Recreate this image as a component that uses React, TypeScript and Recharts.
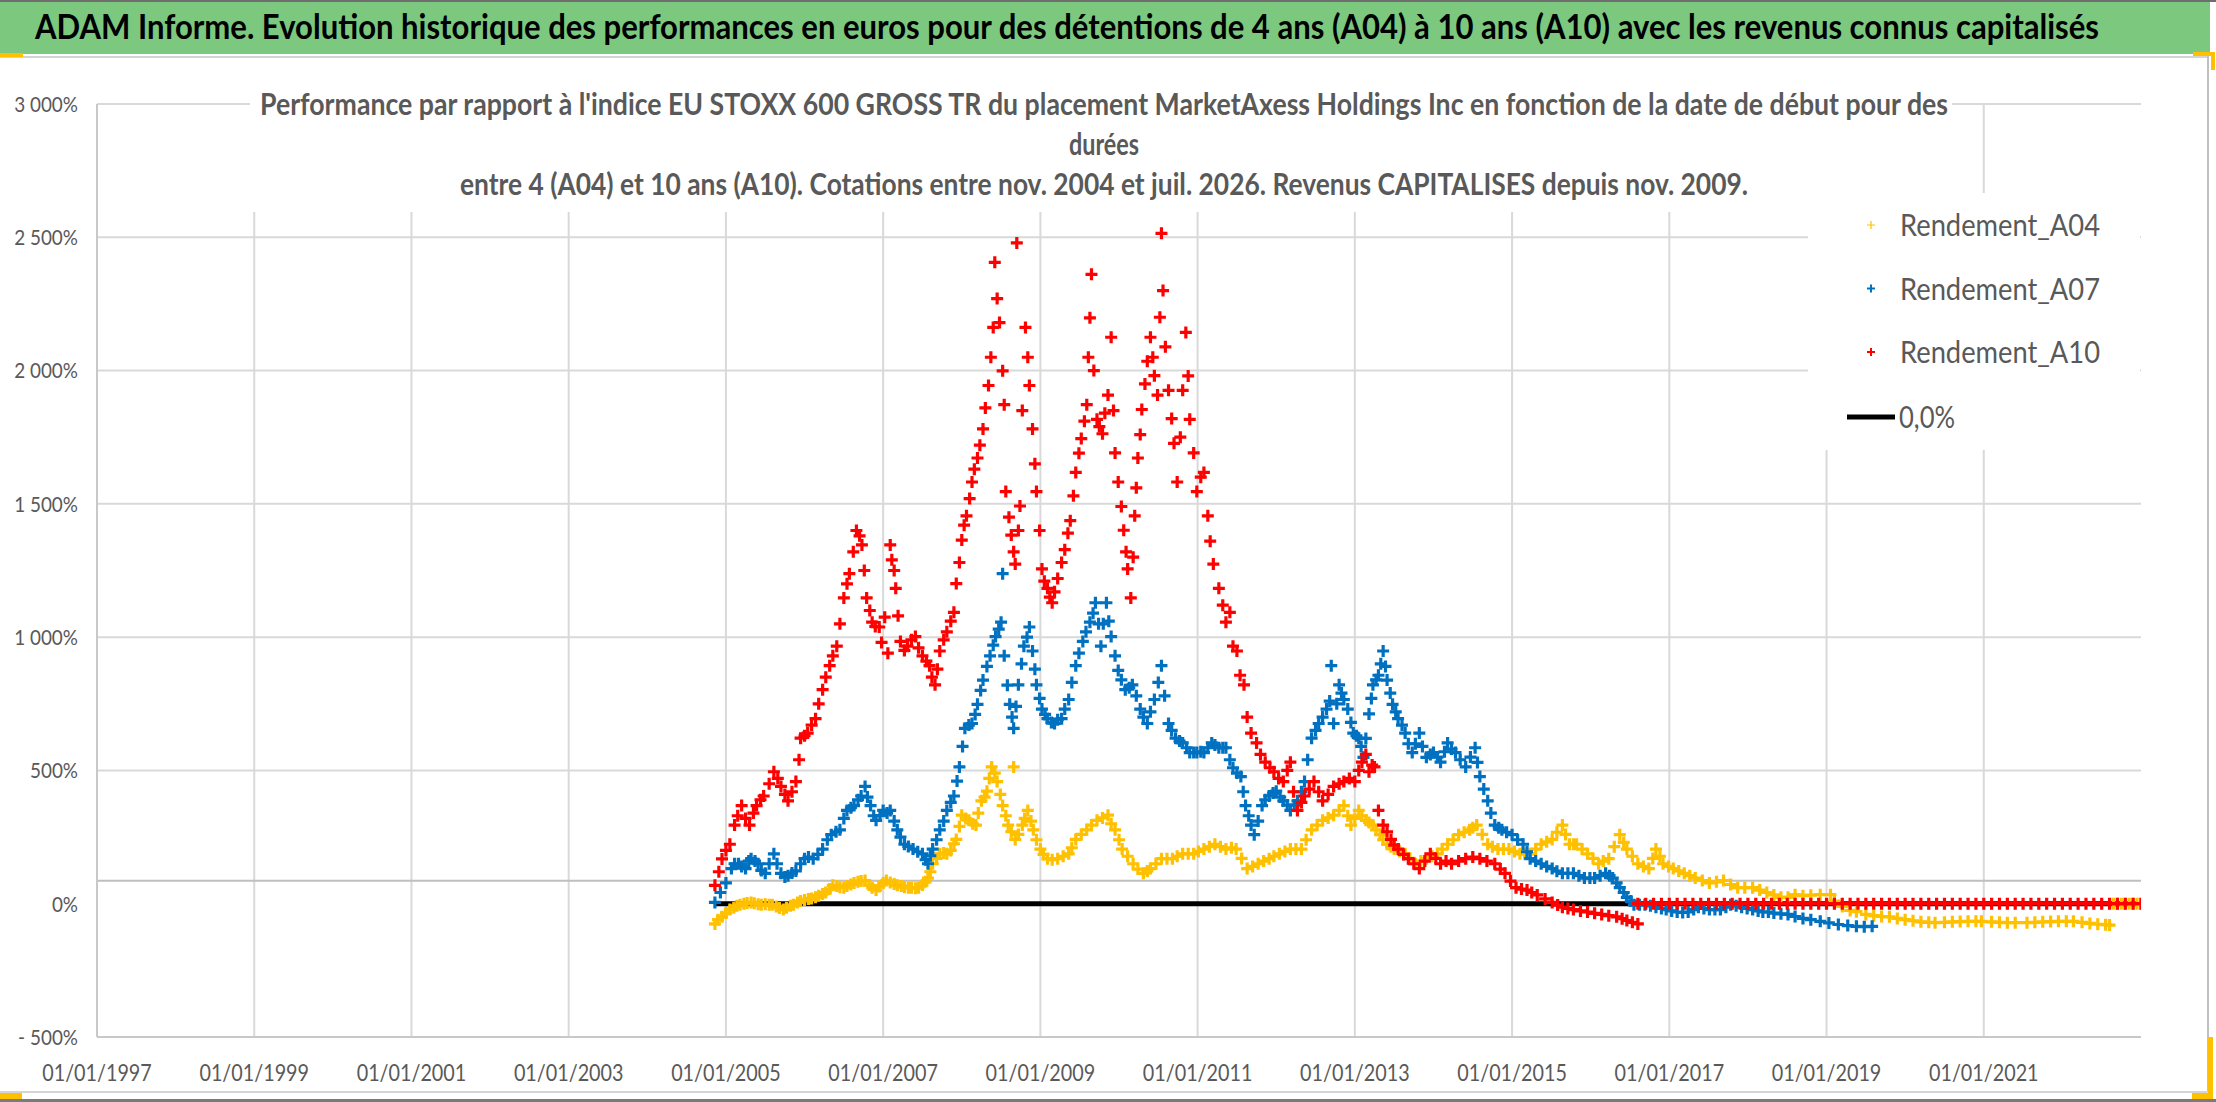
// ADAM performance chart: relative performance of MarketAxess vs EU STOXX 600 GROSS TR
// Scatter of "+" markers per holding period (A04, A07, A10) and a black 0% line

import { ScatterChart, Scatter, XAxis, YAxis, CartesianGrid } from 'recharts'

// [decimal year of start date, performance in %]
const a04: [number, number][] = [
  [2004.86, -76], [2004.9, -60], [2004.95, -49], [2005.0, -35], [2005.05, -22], [2005.1, -15],
  [2005.14, -8], [2005.18, -4], [2005.23, 0], [2005.27, 3], [2005.32, 5], [2005.36, 2],
  [2005.41, -2], [2005.45, -4], [2005.5, -2], [2005.55, -4], [2005.59, -4], [2005.64, -10],
  [2005.68, -16], [2005.73, -22], [2005.77, -15], [2005.82, -8], [2005.86, -4], [2005.91, 5],
  [2005.95, 10], [2006.0, 14], [2006.05, 18], [2006.09, 20], [2006.14, 24], [2006.18, 30],
  [2006.23, 36], [2006.27, 42], [2006.32, 55], [2006.36, 69], [2006.41, 66], [2006.45, 62],
  [2006.5, 60], [2006.54, 66], [2006.59, 72], [2006.63, 78], [2006.68, 82], [2006.72, 85],
  [2006.77, 87], [2006.82, 70], [2006.86, 60], [2006.91, 51], [2006.95, 65], [2007.0, 78],
  [2007.04, 87], [2007.09, 80], [2007.14, 74], [2007.18, 69], [2007.23, 66], [2007.27, 62],
  [2007.32, 60], [2007.36, 60], [2007.41, 58], [2007.45, 60], [2007.5, 70], [2007.54, 82],
  [2007.57, 96], [2007.6, 120], [2007.63, 150], [2007.68, 170], [2007.72, 187], [2007.77, 190],
  [2007.81, 187], [2007.86, 200], [2007.9, 225], [2007.93, 241], [2007.97, 290], [2008.0, 332],
  [2008.05, 320], [2008.09, 313], [2008.14, 300], [2008.18, 295], [2008.21, 340], [2008.25, 386],
  [2008.29, 400], [2008.32, 422], [2008.35, 470], [2008.38, 513], [2008.42, 490], [2008.45, 458],
  [2008.49, 410], [2008.52, 368], [2008.56, 330], [2008.59, 295], [2008.63, 270], [2008.66, 513],
  [2008.68, 241], [2008.72, 260], [2008.77, 295], [2008.8, 320], [2008.84, 350], [2008.88, 310],
  [2008.91, 277], [2008.95, 240], [2009.0, 205], [2009.04, 185], [2009.09, 169], [2009.15, 165],
  [2009.22, 169], [2009.29, 178], [2009.36, 187], [2009.4, 210], [2009.45, 241], [2009.52, 260],
  [2009.59, 277], [2009.65, 295], [2009.72, 313], [2009.79, 322], [2009.86, 332], [2009.9, 300],
  [2009.95, 277], [2010.0, 240], [2010.04, 205], [2010.11, 178], [2010.18, 150], [2010.24, 130],
  [2010.31, 114], [2010.36, 123], [2010.4, 132], [2010.47, 150], [2010.54, 169], [2010.61, 169],
  [2010.68, 169], [2010.74, 178], [2010.81, 187], [2010.88, 187], [2010.95, 187], [2011.01, 196],
  [2011.08, 205], [2011.15, 214], [2011.22, 223], [2011.29, 214], [2011.36, 205], [2011.43, 210],
  [2011.49, 205], [2011.56, 170], [2011.63, 132], [2011.7, 140], [2011.77, 150], [2011.84, 160],
  [2011.91, 169], [2011.97, 178], [2012.04, 187], [2012.11, 196], [2012.18, 205], [2012.25, 205],
  [2012.32, 205], [2012.38, 240], [2012.45, 277], [2012.52, 295], [2012.59, 313], [2012.66, 322],
  [2012.73, 332], [2012.8, 350], [2012.86, 368], [2012.91, 330], [2012.95, 295], [2013.0, 320],
  [2013.05, 350], [2013.09, 330], [2013.14, 313], [2013.18, 305], [2013.23, 295], [2013.27, 277],
  [2013.32, 259], [2013.36, 240], [2013.41, 223], [2013.46, 214], [2013.5, 205], [2013.57, 196],
  [2013.64, 187], [2013.7, 170], [2013.77, 150], [2013.84, 160], [2013.91, 169], [2013.98, 178],
  [2014.05, 187], [2014.11, 205], [2014.18, 223], [2014.25, 240], [2014.32, 259], [2014.39, 268],
  [2014.46, 277], [2014.5, 285], [2014.55, 295], [2014.62, 260], [2014.69, 223], [2014.75, 214],
  [2014.82, 205], [2014.89, 205], [2014.96, 205], [2015.03, 196], [2015.1, 187], [2015.16, 187],
  [2015.23, 187], [2015.3, 205], [2015.37, 223], [2015.44, 232], [2015.51, 241], [2015.57, 268],
  [2015.64, 295], [2015.68, 260], [2015.73, 223], [2015.78, 223], [2015.82, 223], [2015.89, 205],
  [2015.96, 187], [2016.03, 170], [2016.1, 150], [2016.16, 160], [2016.23, 169], [2016.3, 214],
  [2016.37, 259], [2016.42, 230], [2016.46, 205], [2016.53, 178], [2016.6, 150], [2016.67, 140],
  [2016.74, 132], [2016.79, 170], [2016.83, 205], [2016.88, 178], [2016.92, 150], [2016.99, 140],
  [2017.05, 132], [2017.12, 123], [2017.19, 114], [2017.26, 105], [2017.33, 96], [2017.42, 87],
  [2017.51, 78], [2017.6, 82], [2017.69, 87], [2017.78, 72], [2017.87, 60], [2017.96, 60],
  [2018.06, 60], [2018.15, 51], [2018.24, 42], [2018.33, 33], [2018.42, 24], [2018.51, 24],
  [2018.6, 34], [2018.7, 30], [2018.8, 32], [2018.92, 34], [2019.05, 34], [2019.1, 10],
  [2019.2, -10], [2019.3, -25], [2019.38, -30], [2019.5, -40], [2019.6, -45], [2019.7, -48],
  [2019.8, -49], [2019.9, -55], [2020.0, -60], [2020.1, -64], [2020.2, -68], [2020.3, -70],
  [2020.38, -71], [2020.5, -70], [2020.6, -68], [2020.7, -67], [2020.8, -66], [2020.9, -66],
  [2020.97, -66], [2021.1, -68], [2021.2, -70], [2021.3, -71], [2021.4, -71], [2021.55, -71],
  [2021.65, -70], [2021.75, -68], [2021.85, -67], [2021.95, -66], [2022.05, -66], [2022.14, -66],
  [2022.25, -70], [2022.35, -74], [2022.45, -77], [2022.55, -79], [2022.6, -80],
  [2022.65, 0], [2022.7, 0], [2022.75, 0], [2022.8, 0], [2022.85, 0], [2022.9, 0], [2022.95, 0], [2023.0, 0],
]

const a07: [number, number][] = [
  [2004.86, 5], [2004.93, 42], [2005.0, 78], [2005.07, 132], [2005.11, 150], [2005.16, 150],
  [2005.2, 140], [2005.25, 132], [2005.29, 160], [2005.32, 169], [2005.37, 160], [2005.41, 150],
  [2005.45, 125], [2005.5, 114], [2005.55, 150], [2005.61, 187], [2005.65, 150], [2005.7, 114],
  [2005.75, 100], [2005.79, 105], [2005.84, 115], [2005.89, 123], [2005.95, 150], [2006.0, 169],
  [2006.05, 175], [2006.11, 169], [2006.17, 185], [2006.23, 205], [2006.29, 240], [2006.34, 259],
  [2006.4, 270], [2006.45, 277], [2006.5, 320], [2006.54, 350], [2006.59, 360], [2006.63, 368],
  [2006.68, 390], [2006.72, 404], [2006.77, 440], [2006.8, 400], [2006.84, 368], [2006.88, 330],
  [2006.91, 313], [2006.96, 330], [2007.0, 350], [2007.05, 340], [2007.09, 350], [2007.14, 310],
  [2007.18, 277], [2007.22, 250], [2007.27, 223], [2007.32, 215], [2007.38, 205], [2007.44, 195],
  [2007.5, 187], [2007.54, 165], [2007.57, 150], [2007.6, 180], [2007.63, 205], [2007.68, 240],
  [2007.72, 277], [2007.77, 310], [2007.81, 350], [2007.86, 380], [2007.9, 404], [2007.94, 460],
  [2007.97, 513], [2008.01, 590], [2008.04, 658], [2008.09, 670], [2008.13, 676], [2008.17, 710],
  [2008.2, 748], [2008.24, 800], [2008.27, 839], [2008.32, 890], [2008.36, 930], [2008.4, 970],
  [2008.43, 1002], [2008.47, 1030], [2008.5, 1056], [2008.52, 1238], [2008.54, 930], [2008.58, 820],
  [2008.61, 748], [2008.64, 700], [2008.66, 658], [2008.69, 740], [2008.72, 821], [2008.76, 900],
  [2008.79, 966], [2008.83, 1000], [2008.86, 1038], [2008.9, 948], [2008.93, 880], [2008.95, 821],
  [2008.99, 770], [2009.02, 730], [2009.06, 710], [2009.09, 694], [2009.14, 680], [2009.18, 676],
  [2009.22, 690], [2009.27, 694], [2009.31, 730], [2009.36, 766], [2009.4, 830], [2009.45, 893],
  [2009.49, 940], [2009.54, 984], [2009.58, 1020], [2009.63, 1056], [2009.67, 1090], [2009.7, 1129],
  [2009.74, 1050], [2009.77, 966], [2009.8, 1050], [2009.84, 1129], [2009.87, 1060], [2009.9, 1002],
  [2009.95, 930], [2009.99, 875], [2010.03, 840], [2010.08, 803], [2010.13, 810], [2010.17, 821],
  [2010.22, 780], [2010.27, 730], [2010.31, 700], [2010.36, 676], [2010.4, 720], [2010.45, 766],
  [2010.5, 830], [2010.54, 893], [2010.58, 780], [2010.63, 676], [2010.67, 650], [2010.72, 621],
  [2010.77, 610], [2010.81, 603], [2010.86, 585], [2010.9, 567], [2010.95, 567], [2010.99, 567],
  [2011.04, 570], [2011.08, 567], [2011.13, 585], [2011.18, 603], [2011.22, 595], [2011.27, 585],
  [2011.32, 585], [2011.36, 585], [2011.41, 540], [2011.45, 510], [2011.5, 490], [2011.55, 477],
  [2011.58, 420], [2011.61, 368], [2011.65, 330], [2011.68, 295], [2011.72, 259], [2011.77, 310],
  [2011.82, 368], [2011.86, 390], [2011.91, 404], [2011.96, 415], [2012.0, 422], [2012.05, 400],
  [2012.09, 386], [2012.14, 370], [2012.18, 350], [2012.23, 370], [2012.27, 386], [2012.32, 420],
  [2012.36, 458], [2012.4, 540], [2012.45, 621], [2012.5, 650], [2012.54, 676], [2012.59, 700],
  [2012.64, 730], [2012.68, 760], [2012.7, 893], [2012.73, 676], [2012.77, 750], [2012.8, 821],
  [2012.83, 790], [2012.86, 766], [2012.91, 730], [2012.95, 680], [2012.98, 640], [2013.02, 630],
  [2013.05, 621], [2013.08, 590], [2013.11, 549], [2013.14, 620], [2013.18, 712], [2013.21, 770],
  [2013.23, 821], [2013.27, 840], [2013.3, 857], [2013.33, 900], [2013.36, 948], [2013.39, 890],
  [2013.41, 839], [2013.45, 790], [2013.48, 748], [2013.52, 720], [2013.55, 694], [2013.6, 670],
  [2013.64, 640], [2013.68, 600], [2013.73, 567], [2013.77, 600], [2013.82, 640], [2013.86, 590],
  [2013.91, 549], [2013.96, 560], [2014.0, 567], [2014.05, 550], [2014.09, 531], [2014.14, 570],
  [2014.18, 603], [2014.23, 580], [2014.28, 567], [2014.34, 540], [2014.41, 513], [2014.47, 550],
  [2014.53, 585], [2014.56, 530], [2014.59, 477], [2014.64, 430], [2014.69, 386], [2014.73, 340],
  [2014.78, 295], [2014.83, 285], [2014.87, 277], [2014.93, 268], [2015.0, 259], [2015.07, 240],
  [2015.14, 223], [2015.19, 195], [2015.23, 169], [2015.3, 160], [2015.37, 150], [2015.44, 140],
  [2015.51, 132], [2015.57, 122], [2015.64, 114], [2015.71, 114], [2015.78, 114], [2015.85, 105],
  [2015.92, 96], [2015.99, 96], [2016.05, 96], [2016.12, 105], [2016.19, 114], [2016.24, 105],
  [2016.28, 96], [2016.33, 78], [2016.37, 60], [2016.42, 42], [2016.46, 24], [2016.51, 10],
  [2016.55, -4], [2016.62, -4], [2016.69, -4], [2016.76, -8], [2016.83, -13], [2016.9, -18],
  [2016.96, -22], [2017.03, -27], [2017.1, -31], [2017.17, -33], [2017.24, -31], [2017.31, -22],
  [2017.37, -13], [2017.44, -18], [2017.51, -22], [2017.58, -22], [2017.65, -22], [2017.72, -13],
  [2017.78, -4], [2017.85, -8], [2017.92, -13], [2017.99, -18], [2018.06, -22], [2018.13, -27],
  [2018.19, -31], [2018.26, -31], [2018.33, -35], [2018.42, -38], [2018.51, -40], [2018.6, -48],
  [2018.7, -55], [2018.8, -60], [2018.92, -66], [2019.03, -72], [2019.15, -78], [2019.27, -82],
  [2019.38, -85], [2019.48, -86], [2019.58, -85],
]

const a10: [number, number][] = [
  [2004.86, 69], [2004.91, 120], [2004.95, 168], [2005.0, 200], [2005.05, 223], [2005.11, 295],
  [2005.15, 330], [2005.2, 368], [2005.25, 320], [2005.3, 295], [2005.35, 340], [2005.39, 368],
  [2005.44, 390], [2005.48, 404], [2005.55, 450], [2005.61, 495], [2005.66, 470], [2005.7, 440],
  [2005.75, 410], [2005.79, 386], [2005.84, 420], [2005.89, 458], [2005.93, 540], [2005.95, 621],
  [2006.0, 630], [2006.04, 640], [2006.09, 670], [2006.14, 694], [2006.18, 750], [2006.23, 803],
  [2006.27, 850], [2006.32, 893], [2006.36, 930], [2006.41, 966], [2006.45, 1050], [2006.5, 1147],
  [2006.54, 1200], [2006.57, 1238], [2006.62, 1320], [2006.66, 1400], [2006.7, 1380], [2006.73, 1346],
  [2006.76, 1250], [2006.79, 1147], [2006.83, 1100], [2006.86, 1056], [2006.9, 1040], [2006.95, 1038],
  [2006.98, 980], [2007.02, 1075], [2007.06, 940], [2007.09, 1346], [2007.11, 1290], [2007.14, 1250],
  [2007.16, 1183], [2007.19, 1080], [2007.22, 984], [2007.27, 950], [2007.31, 966], [2007.36, 990],
  [2007.41, 1002], [2007.45, 960], [2007.5, 930], [2007.55, 910], [2007.59, 893], [2007.62, 850],
  [2007.66, 821], [2007.69, 880], [2007.72, 948], [2007.77, 990], [2007.81, 1020], [2007.86, 1060],
  [2007.9, 1093], [2007.93, 1201], [2007.97, 1280], [2008.0, 1364], [2008.03, 1420], [2008.06, 1455],
  [2008.1, 1520], [2008.13, 1582], [2008.16, 1630], [2008.2, 1672], [2008.23, 1720], [2008.27, 1781],
  [2008.3, 1860], [2008.34, 1944], [2008.37, 2050], [2008.4, 2162], [2008.42, 2406], [2008.45, 2270],
  [2008.48, 2180], [2008.52, 1999], [2008.54, 1872], [2008.56, 1546], [2008.6, 1450], [2008.63, 1383],
  [2008.66, 1320], [2008.68, 1274], [2008.7, 2479], [2008.72, 1400], [2008.74, 1492], [2008.77, 1850],
  [2008.81, 2162], [2008.84, 2050], [2008.86, 1944], [2008.9, 1781], [2008.93, 1650], [2008.95, 1546],
  [2008.99, 1400], [2009.02, 1256], [2009.05, 1210], [2009.09, 1183], [2009.12, 1150], [2009.15, 1129],
  [2009.18, 1170], [2009.22, 1220], [2009.27, 1280], [2009.31, 1328], [2009.35, 1390], [2009.38, 1437],
  [2009.42, 1530], [2009.45, 1618], [2009.49, 1690], [2009.52, 1745], [2009.56, 1810], [2009.59, 1872],
  [2009.61, 2050], [2009.63, 2198], [2009.65, 2361], [2009.68, 2000], [2009.72, 1817], [2009.75, 1790],
  [2009.79, 1763], [2009.82, 1840], [2009.86, 1908], [2009.9, 2125], [2009.93, 1850], [2009.95, 1691],
  [2009.99, 1582], [2010.03, 1490], [2010.06, 1401], [2010.09, 1320], [2010.11, 1256], [2010.15, 1147],
  [2010.18, 1300], [2010.2, 1455], [2010.22, 1560], [2010.24, 1672], [2010.27, 1760], [2010.29, 1854],
  [2010.33, 1950], [2010.36, 2035], [2010.4, 2125], [2010.43, 2050], [2010.45, 1981], [2010.49, 1908],
  [2010.52, 2200], [2010.54, 2515], [2010.56, 2300], [2010.59, 2089], [2010.63, 1926], [2010.67, 1820],
  [2010.7, 1727], [2010.74, 1582], [2010.78, 1750], [2010.81, 1926], [2010.85, 2143], [2010.88, 1980],
  [2010.9, 1817], [2010.95, 1691], [2010.99, 1546], [2011.04, 1600], [2011.08, 1618], [2011.13, 1455],
  [2011.16, 1360], [2011.2, 1274], [2011.27, 1183], [2011.32, 1120], [2011.36, 1056], [2011.41, 1093],
  [2011.45, 966], [2011.5, 948], [2011.54, 857], [2011.59, 821], [2011.63, 700], [2011.68, 640],
  [2011.75, 603], [2011.8, 560], [2011.86, 531], [2011.92, 510], [2011.97, 495], [2012.03, 470],
  [2012.09, 458], [2012.14, 500], [2012.18, 531], [2012.22, 420], [2012.27, 350], [2012.32, 380],
  [2012.36, 404], [2012.42, 430], [2012.48, 458], [2012.54, 420], [2012.59, 386], [2012.66, 410],
  [2012.73, 440], [2012.8, 450], [2012.86, 458], [2012.93, 470], [2013.0, 458], [2013.05, 500],
  [2013.09, 531], [2013.14, 560], [2013.18, 495], [2013.22, 520], [2013.25, 513], [2013.3, 350],
  [2013.36, 295], [2013.41, 270], [2013.46, 241], [2013.5, 220], [2013.55, 205], [2013.62, 185],
  [2013.68, 169], [2013.75, 150], [2013.82, 132], [2013.89, 160], [2013.96, 187], [2014.03, 170],
  [2014.09, 150], [2014.16, 160], [2014.23, 150], [2014.32, 160], [2014.41, 169], [2014.5, 175],
  [2014.59, 169], [2014.68, 160], [2014.78, 150], [2014.85, 130], [2014.91, 114], [2014.98, 85],
  [2015.05, 60], [2015.12, 55], [2015.19, 51], [2015.25, 42], [2015.32, 33], [2015.42, 18],
  [2015.51, 5], [2015.58, -5], [2015.64, -13], [2015.71, -18], [2015.78, -22], [2015.87, -27],
  [2015.96, -31], [2016.05, -36], [2016.14, -40], [2016.23, -45], [2016.33, -49], [2016.4, -56],
  [2016.46, -63], [2016.53, -70], [2016.6, -76],
  // no 10-year result yet after mid-2016: plotted at 0
  [2016.6, 0], [2016.7, 0], [2016.8, 0], [2016.9, 0], [2017.0, 0], [2017.1, 0], [2017.2, 0],
  [2017.3, 0], [2017.4, 0], [2017.5, 0], [2017.6, 0], [2017.7, 0], [2017.8, 0], [2017.9, 0],
  [2018.0, 0], [2018.1, 0], [2018.2, 0], [2018.3, 0], [2018.4, 0], [2018.5, 0], [2018.6, 0],
  [2018.7, 0], [2018.8, 0], [2018.9, 0], [2019.0, 0], [2019.1, 0], [2019.2, 0], [2019.3, 0],
  [2019.4, 0], [2019.5, 0], [2019.6, 0], [2019.7, 0], [2019.8, 0], [2019.9, 0], [2020.0, 0],
  [2020.1, 0], [2020.2, 0], [2020.3, 0], [2020.4, 0], [2020.5, 0], [2020.6, 0], [2020.7, 0],
  [2020.8, 0], [2020.9, 0], [2021.0, 0], [2021.1, 0], [2021.2, 0], [2021.3, 0], [2021.4, 0],
  [2021.5, 0], [2021.6, 0], [2021.7, 0], [2021.8, 0], [2021.9, 0], [2022.0, 0], [2022.1, 0],
  [2022.2, 0], [2022.3, 0], [2022.4, 0], [2022.5, 0], [2022.6, 0], [2022.7, 0], [2022.8, 0],
  [2022.9, 0], [2023.0, 0],
]

// the "0,0%" reference series
const zeroLine: [number, number][] = [[2004.87, 0], [2022.95, 0]]

const xTickYears = [1997, 1999, 2001, 2003, 2005, 2007, 2009, 2011, 2013, 2015, 2017, 2019, 2021]
const yTicks = [-500, 0, 500, 1000, 1500, 2000, 2500, 3000]
const yGridValues = [500, 1000, 1500, 2000, 2500, 3000]
const xGridYears = [1999, 2001, 2003, 2005, 2007, 2009, 2011, 2013, 2015, 2017, 2019, 2021]
const axisCrossValue = 86

const seriesNames = ['Rendement_A04', 'Rendement_A07', 'Rendement_A10']
const seriesColors = ['#FFC000', '#0070C0', '#FF0000']

const mainTitle =
  'ADAM Informe. Evolution historique des performances en euros pour des détentions de 4 ans (A04) à 10 ans (A10) avec les revenus connus capitalisés'
const subTitleLines = [
  "Performance  par rapport à l'indice EU STOXX 600 GROSS TR  du placement MarketAxess Holdings Inc en fonction de la date de début pour des",
  'durées',
  'entre 4 (A04) et 10 ans (A10). Cotations entre nov. 2004 et juil. 2026. Revenus CAPITALISES depuis nov. 2009.',
]
const subTitleWidths = [1688, 70, 1288]

const FONT = 'Lato, "Open Sans", sans-serif'
const TEXT_GREY = '#595959'

const toPoints = (rows: [number, number][]) => rows.map(([x, y]) => ({ x, y }))

// "+" marker like Excel's plus marker
function plusShape(color: string, r: number, w: number) {
  return (props: any) => {
    const { cx, cy } = props
    if (cx == null || cy == null) return <g />
    return (
      <path
        d={`M${cx - r},${cy}h${2 * r}M${cx},${cy - r}v${2 * r}`}
        stroke={color}
        strokeWidth={w}
        fill="none"
      />
    )
  }
}

// 3000 -> "3 000%", -500 -> "- 500%"
function fmtPct(v: number): string {
  const abs = Math.abs(v)
  const s = abs >= 1000 ? `${Math.floor(abs / 1000)} ${String(abs % 1000).padStart(3, '0')}` : String(abs)
  return v < 0 ? `- ${s}%` : `${s}%`
}

const XTick = ({ x, y, payload }: any) => (
  <text
    transform={`translate(${x},${y}) scale(0.86,1)`}
    textAnchor="middle"
    dy="0.71em"
    fill={TEXT_GREY}
    fontSize={23}
    fontFamily={FONT}
  >
    {`01/01/${payload.value}`}
  </text>
)

const YTick = ({ x, y, payload }: any) => (
  <text
    transform={`translate(${x},${y}) scale(0.86,1)`}
    textAnchor="end"
    dy="0.355em"
    fill={TEXT_GREY}
    fontSize={22}
    fontFamily={FONT}
  >
    {fmtPct(payload.value)}
  </text>
)

// text squeezed to a given width and stretched a little in height (Calibri-like look)
function FitText({ x, y, width, size, stretch, anchor, weight, fill, children }: any) {
  return (
    <text
      transform={`translate(${x},${y}) scale(1,${stretch})`}
      textAnchor={anchor}
      fontFamily={FONT}
      fontWeight={weight}
      fontSize={size}
      fill={fill}
      textLength={width}
      lengthAdjust="spacingAndGlyphs"
    >
      {children}
    </text>
  )
}

export default function App() {
  const W = 2216
  const H = 1102

  return (
    <div style={{ position: 'relative', width: W, height: H, background: '#fff', overflow: 'hidden' }}>
      <style>{'body{margin:0}'}</style>

      <ScatterChart width={W} height={H} margin={{ top: 104, right: 75, bottom: 15, left: 17 }}>
        <CartesianGrid
          stroke="#d9d9d9"
          strokeWidth={2}
          horizontalValues={yGridValues}
          verticalValues={xGridYears}
        />
        <CartesianGrid stroke="#bfbfbf" strokeWidth={2} horizontalValues={[axisCrossValue]} vertical={false} />
        <XAxis
          type="number"
          dataKey="x"
          domain={[1997, 2023]}
          ticks={xTickYears}
          allowDataOverflow
          height={50}
          tickLine={false}
          tickMargin={22}
          axisLine={{ stroke: '#c8c8c8', strokeWidth: 2 }}
          tick={<XTick />}
        />
        <YAxis
          type="number"
          dataKey="y"
          domain={[-500, 3000]}
          ticks={yTicks}
          allowDataOverflow
          width={80}
          tickLine={false}
          tickMargin={13}
          axisLine={{ stroke: '#c8c8c8', strokeWidth: 2 }}
          tick={<YTick />}
        />
        <Scatter
          name="0,0%"
          data={toPoints(zeroLine)}
          line={{ stroke: '#000000', strokeWidth: 5 }}
          shape={() => <g />}
          isAnimationActive={false}
        />
        <Scatter
          name={seriesNames[0]}
          data={toPoints(a04)}
          shape={plusShape(seriesColors[0], 6, 3.2)}
          isAnimationActive={false}
        />
        <Scatter
          name={seriesNames[1]}
          data={toPoints(a07)}
          shape={plusShape(seriesColors[1], 6, 3.2)}
          isAnimationActive={false}
        />
        <Scatter
          name={seriesNames[2]}
          data={toPoints(a10)}
          shape={plusShape(seriesColors[2], 6, 3.2)}
          isAnimationActive={false}
        />
      </ScatterChart>

      {/* title band, chart title box, legend and frame */}
      <svg
        width={W}
        height={H}
        style={{ position: 'absolute', left: 0, top: 0, pointerEvents: 'none' }}
      >
        <rect x={0} y={0} width={2210} height={54} fill="#7DC87F" />
        <rect x={0} y={0} width={2216} height={2} fill="#6e6e6e" />
        <FitText x={1067} y={39} width={2064} size={28} stretch={1.25} anchor="middle" weight={700} fill="#000">
          {mainTitle}
        </FitText>
        <rect x={0} y={56} width={2208} height={2} fill="#d4d4d4" />
        <rect x={0} y={53} width={23} height={4} fill="#FFC000" />
        <rect x={2193} y={52} width={22} height={4} fill="#FFC000" />
        <rect x={2211} y={52} width={4} height={18} fill="#FFC000" />
        <rect x={2207} y={56} width={2} height={1036} fill="#c0c0c0" />
        <rect x={0} y={1091} width={2208} height={2} fill="#d4d4d4" />
        <rect x={0} y={1099} width={2216} height={3} fill="#7a7a7a" />
        <rect x={0} y={1093} width={22} height={6} fill="#FFC000" />
        <rect x={2208} y={1037} width={5} height={62} fill="#FFC000" />
        <rect x={2192} y={1093} width={21} height={6} fill="#FFC000" />

        <rect x={250} y={62} width={1702} height={150} fill="#fff" />
        {subTitleLines.map((line, i) => (
          <FitText
            key={i}
            x={1104}
            y={115 + i * 40}
            width={subTitleWidths[i]}
            size={25}
            stretch={1.22}
            anchor="middle"
            weight={700}
            fill={TEXT_GREY}
          >
            {line}
          </FitText>
        ))}

        <rect x={1808} y={193} width={332} height={257} fill="#fff" />
        {seriesNames.map((name, i) => {
          const cy = 225 + i * 63.5
          return (
            <g key={name}>
              <path
                d={`M${1867},${cy}h8M${1871},${cy - 4}v8`}
                stroke={seriesColors[i]}
                strokeWidth={i === 0 ? 1.2 : 2}
              />
              <FitText x={1900} y={cy + 11} width={200} size={26} stretch={1.15} anchor="start" weight={400} fill={TEXT_GREY}>
                {name}
              </FitText>
            </g>
          )
        })}
        <line x1={1847} y1={417} x2={1895} y2={417} stroke="#000" strokeWidth={5} />
        <FitText x={1899} y={428} width={56} size={26} stretch={1.15} anchor="start" weight={400} fill={TEXT_GREY}>
          0,0%
        </FitText>
      </svg>
    </div>
  )
}
